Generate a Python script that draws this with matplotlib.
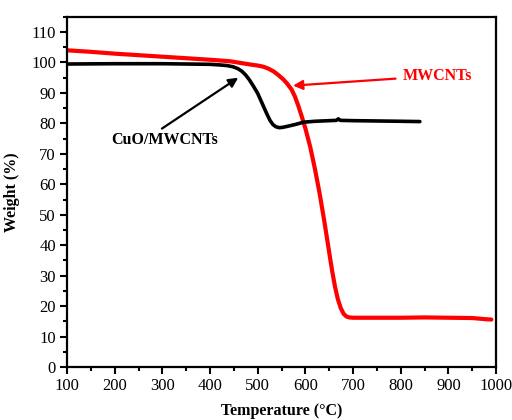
import matplotlib
matplotlib.use("Agg")
import matplotlib.pyplot as plt
from matplotlib.ticker import MultipleLocator

# MWCNTs TGA curve
temp_mwcnt = [100, 150, 200, 250, 300, 350, 400, 442, 470, 490, 500, 512, 522, 533,
              543, 554, 562, 571, 578, 585, 592, 600, 610, 620, 630, 640, 650, 656,
              662, 668, 674, 680, 686, 692, 700, 750, 800, 850, 900, 950, 965, 980, 990]
wt_mwcnt = [104.0, 103.5, 102.9, 102.4, 101.9, 101.4, 100.9, 100.4, 99.7, 99.2, 99.0,
            98.6, 98.0, 97.1, 95.9, 94.4, 93.0, 91.1, 88.8, 85.8, 82.4, 78.3, 72.3,
            65.0, 56.8, 47.5, 37.5, 31.6, 26.4, 22.3, 19.4, 17.5, 16.6, 16.3, 16.2,
            16.2, 16.2, 16.3, 16.2, 16.1, 15.9, 15.7, 15.6]

# CuO/MWCNTs TGA curve
temp_cuo = [100, 200, 300, 400, 420, 435, 448, 458, 466, 474, 482, 491, 500, 512,
            520, 526, 532, 538, 545, 552, 561, 580, 596, 620, 650, 665, 669, 673,
            700, 750, 800, 840]
wt_cuo = [99.5, 99.6, 99.6, 99.4, 99.2, 99.0, 98.6, 98.0, 97.2, 96.0, 94.4, 92.2,
          89.8, 85.6, 82.8, 80.9, 79.6, 78.9, 78.6, 78.7, 79.0, 79.7, 80.4, 80.7,
          80.9, 81.0, 81.5, 81.0, 80.9, 80.8, 80.7, 80.6]

plt.rcParams['font.family'] = ['Liberation Serif', 'DejaVu Serif']

fig = plt.figure(figsize=(5.12, 4.2), dpi=100)
ax = fig.add_axes([0.131, 0.126, 0.838, 0.834])

ax.plot(temp_mwcnt, wt_mwcnt, color='#ff0000', lw=3.0,
        solid_capstyle='round', solid_joinstyle='round')
ax.plot(temp_cuo, wt_cuo, color='black', lw=2.6,
        solid_capstyle='round', solid_joinstyle='round')

# labels and arrows
ax.text(305, 74.5, 'CuO/MWCNTs', fontsize=11.5, fontweight='bold',
        color='black', ha='center', va='center')
ax.annotate('', xy=(459, 95), xytext=(299, 78.3),
            arrowprops=dict(arrowstyle='-|>', color='black', lw=1.6,
                            mutation_scale=14, shrinkA=0, shrinkB=0))
ax.text(876, 95.4, 'MWCNTs', fontsize=11.5, fontweight='bold',
        color='#ff0000', ha='center', va='center')
ax.annotate('', xy=(574, 92.4), xytext=(789, 94.7),
            arrowprops=dict(arrowstyle='-|>', color='#ff0000', lw=1.6,
                            mutation_scale=14, shrinkA=0, shrinkB=0))

ax.set_xlim(100, 1000)
ax.set_ylim(0, 115)
ax.xaxis.set_major_locator(MultipleLocator(100))
ax.xaxis.set_minor_locator(MultipleLocator(50))
ax.yaxis.set_major_locator(MultipleLocator(10))
ax.yaxis.set_minor_locator(MultipleLocator(5))
ax.tick_params(which='both', direction='out', top=False, right=False,
               width=1.5, labelsize=12)
ax.tick_params(which='major', length=5, pad=3)
ax.tick_params(which='minor', length=3)
for s in ax.spines.values():
    s.set_linewidth(1.6)

ax.set_xlabel('Temperature (°C)', fontsize=11.5, fontweight='bold', labelpad=6)
ax.set_ylabel('Weight (%)', fontsize=11.5, fontweight='bold', labelpad=8)

fig.savefig('out.png', dpi=100)
